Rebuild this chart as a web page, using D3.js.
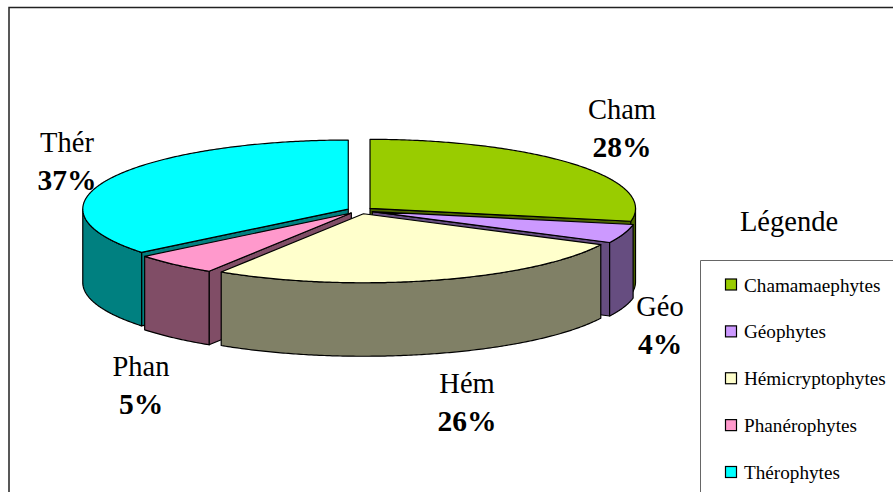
<!DOCTYPE html>
<html><head><meta charset="utf-8">
<script src="https://cdnjs.cloudflare.com/ajax/libs/d3/7.8.5/d3.min.js"></script>
<style>html,body{margin:0;padding:0;background:#fff}svg{display:block}text{font-family:"Liberation Serif","Times New Roman",serif;fill:#000}</style>
</head><body><svg id="c" width="893" height="492"></svg>
<script>
const shortNames = ["Cham","Géo","Hém","Phan","Thér"];
const legendNames = ["Chamamaephytes","Géophytes","Hémicryptophytes","Phanérophytes","Thérophytes"];
const printedPercents = [28,4,26,5,37];
const sliceShares = [28.0,4.4,26.6,5.2,35.8];
const topColors = ["#99CC00","#CC99FF","#FFFFCC","#FF99CC","#00FFFF"];
const sideColors = ["#4D6600","#664D80","#808066","#804D66","#008080"];
const paintOrder = [0,4,1,3,2];

const cx=360, cy=210.5, rx=265.5, ry=69, depth=73.5, explode=13, squash=0.26;
const labelSpots = [[622,119,157],[660,316,354],[467,393,431],[141,376,414],[67,152,190]];

const svg=d3.select("#c");
svg.append("path").attr("d","M9,492V7.5H893").attr("fill","none").attr("stroke","#222").attr("stroke-width",1.5);

const arcs=d3.pie().sort(null).value(d=>d)(sliceShares);
const line=d3.line();

function pt(c,a,dz=0){return [c[0]+rx*Math.sin(a), c[1]-ry*Math.cos(a)+dz];}
function rim(c,a0,a1,dz=0){
  const n=Math.max(2,Math.ceil(Math.abs(a1-a0)/0.01));
  return d3.range(n+1).map(i=>pt(c,a0+(a1-a0)*i/n,dz));
}
const g=svg.append("g").attr("stroke","#000").attr("stroke-width",1.2).attr("stroke-linejoin","round");
paintOrder.forEach(i=>{
  const s=arcs[i], a0=s.startAngle, a1=s.endAngle, mid=(a0+a1)/2;
  const c=[cx+explode*Math.sin(mid), cy-explode*squash*Math.cos(mid)];
  const side=sideColors[i];
  const wall=a=>{
    const p=pt(c,a), q=pt(c,a,depth);
    g.append("path").attr("fill",side).attr("d",line([c,p,q,[c[0],c[1]+depth]])+"Z");
  };
  if(Math.sin(a1)>0) wall(a1);
  if(Math.sin(a0)<0) wall(a0);
  const f0=Math.max(a0,Math.PI/2), f1=Math.min(a1,Math.PI*1.5);
  if(f1>f0){
    const pts=rim(c,f0,f1).concat(rim(c,f1,f0,depth));
    g.append("path").attr("fill",side).attr("d",line(pts)+"Z");
  }
  g.append("path").attr("fill",topColors[i]).attr("d",line([c].concat(rim(c,a0,a1)))+"Z");
});

const lab=svg.append("g").attr("text-anchor","middle");
shortNames.forEach((n,i)=>{
  const [x,y1,y2]=labelSpots[i];
  lab.append("text").attr("x",x).attr("y",y1).attr("font-size",28.5).text(n);
  lab.append("text").attr("x",x).attr("y",y2).attr("font-size",29.5).attr("font-weight","bold").text(printedPercents[i]+"%");
});

svg.append("text").attr("x",789).attr("y",231).attr("text-anchor","middle").attr("font-size",28.5).text("Légende");
svg.append("path").attr("d","M700.5,492V260.5H893").attr("fill","none").attr("stroke","#666").attr("stroke-width",1);
const rowY=d3.scalePoint().domain(legendNames).range([284.5,472]);
const leg=svg.append("g");
legendNames.forEach((n,i)=>{
  const y=rowY(n);
  leg.append("rect").attr("x",725.5).attr("y",y-5.5).attr("width",11).attr("height",11).attr("fill",topColors[i]).attr("stroke","#000").attr("stroke-width",1.2);
  leg.append("text").attr("x",744).attr("y",y+7).attr("font-size",19.2).text(n);
});
</script></body></html>
